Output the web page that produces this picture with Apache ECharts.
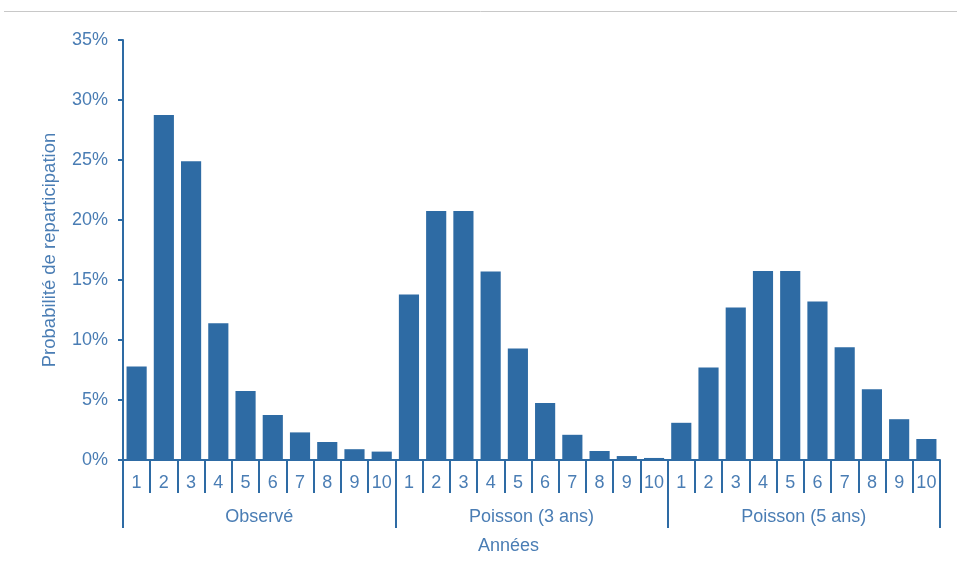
<!DOCTYPE html>
<html>
<head>
<meta charset="utf-8">
<script src="https://cdn.jsdelivr.net/npm/echarts@6/dist/echarts.min.js"></script>
<style>
  html, body { margin: 0; padding: 0; background: #fff; }
  #chart { width: 957px; height: 583px; }
</style>
</head>
<body>
<div id="chart"></div>
<script>
// Years since first participation, repeated under each group
const years = ['1', '2', '3', '4', '5', '6', '7', '8', '9', '10'];
const groups = ['Observé', 'Poisson (3 ans)', 'Poisson (5 ans)'];

// Probability of re-participation (%) per year, one array per group
const observe = [7.8, 28.75, 24.9, 11.4, 5.75, 3.75, 2.3, 1.5, 0.9, 0.7];
const poisson3 = [13.8, 20.75, 20.75, 15.7, 9.3, 4.75, 2.1, 0.75, 0.33, 0.17];
const poisson5 = [3.1, 7.7, 12.7, 15.75, 15.75, 13.2, 9.4, 5.9, 3.4, 1.75];

const yTicks = [0, 5, 10, 15, 20, 25, 30, 35];

const BAR = '#2E6BA4';
const TEXT = '#4A7DB4';
const FONT = '"Liberation Sans", Arial, sans-serif';

const seriesByGroup = [observe, poisson3, poisson5];
const categories = [];
const values = [];
groups.forEach((g, gi) => {
  years.forEach((y, yi) => {
    categories.push(g + '|' + y);
    values.push(seriesByGroup[gi][yi]);
  });
});

const chart = echarts.init(document.getElementById('chart'), null, { renderer: 'canvas' });
chart.setOption({
  animation: false,
  backgroundColor: '#fff',
  textStyle: { fontFamily: FONT },
  grid: { left: 123, right: 17, top: 40, bottom: 123, containLabel: false },
  graphic: [
    {
      type: 'line',
      shape: { x1: 4, y1: 11.5, x2: 957, y2: 11.5 },
      style: { stroke: '#c8c8c8', lineWidth: 1 }
    },
    {
      type: 'text',
      left: 478,
      top: 537,
      style: { text: 'Années', fill: TEXT, font: '18px ' + FONT }
    }
  ],
  xAxis: [
    {
      type: 'category',
      data: categories,
      position: 'bottom',
      axisLine: { show: true, lineStyle: { color: BAR, width: 2 } },
      axisTick: { show: true, alignWithLabel: false, length: 33, lineStyle: { color: BAR, width: 2 } },
      axisLabel: {
        color: TEXT, fontSize: 18, fontFamily: FONT, margin: 14, interval: 0,
        formatter: v => v.split('|')[1]
      }
    },
    {
      type: 'category',
      data: groups,
      position: 'bottom',
      axisLine: { show: false },
      axisTick: { show: true, length: 68, lineStyle: { color: BAR, width: 2 } },
      axisLabel: { color: TEXT, fontSize: 18, fontFamily: FONT, margin: 48, interval: 0 },
      splitLine: { show: false }
    }
  ],
  yAxis: {
    type: 'value',
    min: yTicks[0],
    max: yTicks[yTicks.length - 1],
    interval: yTicks[1] - yTicks[0],
    name: 'Probabilité de reparticipation',
    nameLocation: 'middle',
    nameRotate: 90,
    nameGap: 64,
    nameTextStyle: { color: TEXT, fontSize: 18.5, fontFamily: FONT },
    axisLine: { show: true, lineStyle: { color: BAR, width: 2 } },
    axisTick: { show: true, length: 5, lineStyle: { color: BAR, width: 2 } },
    axisLabel: { color: TEXT, fontSize: 18, fontFamily: FONT, margin: 15, formatter: '{value}%' },
    splitLine: { show: false }
  },
  series: [
    {
      type: 'bar',
      xAxisIndex: 0,
      data: values,
      barCategoryGap: '26%',
      itemStyle: { color: BAR }
    }
  ]
});
</script>
</body>
</html>
